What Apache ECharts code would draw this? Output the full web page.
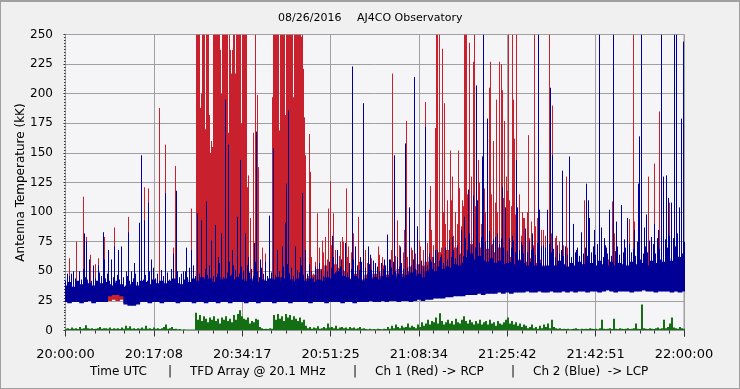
<!DOCTYPE html>
<html><head><meta charset="utf-8">
<script src="https://cdn.jsdelivr.net/npm/echarts@6/dist/echarts.min.js"></script>
<style>
html,body{margin:0;padding:0;background:#f0f0f0;}
#chart{position:absolute;left:0;top:0;width:740px;height:389px;}
#frame{position:absolute;left:0;top:0;width:740px;height:389px;box-sizing:border-box;border:1px solid #a0a0a0;border-top:2px solid #a0a0a0;pointer-events:none;}
</style></head><body>
<div id="chart"></div><div id="frame"></div>
<script>
// ---- data (time in minutes after 20:00:00 UTC, values in kK) ----
const xTickLabels = ['20:00:00','20:17:08','20:34:17','20:51:25','21:08:34','21:25:42','21:42:51','22:00:00'];

// solid core of each channel: 155 uniform bins over 20:00-22:00 (low, high)
const blueLow = [
24,23,24,24,23,24,25,23,24,24, 24,29,30,30,29,22,21,21,22,24, 24,23,24,24,23,24,24,24,23,24,
24,24,23,24,24,23,24,24,23,24, 24,23,24,24,24,23,24,24,23,24, 24,24,23,24,24,24,23,24,24,24,
24,23,24,24,24,23,24,24,24,23, 24,24,23,24,24,24,25,24,24,25, 24,25,25,24,25,25,24,25,26,25,
26,26,27,27,27,28,28,29,29,29, 30,30,30,31,30,31,31,31,32,31, 32,31,32,32,32,33,32,32,33,32,
32,33,32,32,33,32,33,32,33,33, 32,33,33,32,33,34,33,32,33,33, 33,32,33,33,34,33,33,32,33,33,
33,32,33,32,33];
const blueHigh = [
38,41,37,42,39,43,40,38,42,40, 41,39,38,42,39,37,39,41,38,42, 41,39,43,40,42,40,42,44,40,39,
43,41,44,42,45,43,44,41,45,43, 44,46,43,45,43,42,44,42,41,43, 42,44,43,45,42,44,43,42,44,42,
42,44,41,43,42,45,44,48,50,46, 45,43,46,44,42,44,43,45,43,46, 45,47,44,48,45,47,49,46,48,45,
50,52,50,54,52,54,53,56,55,57, 62,65,60,63,59,58,61,57,59,56, 57,58,56,59,57,55,58,55,57,54,
55,57,55,59,56,54,57,55,58,56, 55,57,55,59,56,55,58,55,57,56, 55,58,56,60,57,55,59,57,60,58,
61,59,63,62,65];
const redLow = [
25,24,25,25,24,25,26,24,25,25, 25,25,26,25,26,23,22,22,23,25, 25,24,25,25,24,25,25,25,24,25,
25,25,24,25,25,24,25,25,24,25, 25,24,25,25,25,24,25,25,24,25, 25,25,24,25,25,25,24,25,25,25,
25,24,25,25,25,24,25,25,25,24, 25,25,24,25,25,25,26,25,25,26, 25,26,26,25,26,26,25,26,27,26,
27,27,28,28,28,29,29,30,30,30, 31,31,31,32,31,32,32,32,33,32, 33,32,33,33,33,34,33,33,34,33,
33,34,33,33,34,33,34,33,34,34, 33,34,34,33,34,35,34,33,34,34, 34,33,34,34,35,34,34,33,34,34,
34,33,34,33,34];
const redHigh = [
36,38,36,40,38,41,39,36,41,38, 38,37,36,39,37,33,37,39,35,40, 38,36,40,37,39,37,39,41,37,36,
40,38,42,50,54,52,56,51,56,53, 55,52,57,51,54,46,43,41,40,42, 40,43,50,54,52,56,51,55,53,49,
44,46,47,52,50,55,52,56,53,50, 46,44,48,45,43,47,44,48,45,49, 47,50,46,52,48,50,54,51,56,55,
58,62,57,66,61,68,63,70,65,72, 76,73,78,70,74,69,73,66,70,64, 67,62,65,60,64,58,61,57,60,55,
54,53,50,52,49,48,51,48,52,49, 47,50,48,52,54,60,57,48,51,49, 48,52,49,54,50,48,52,51,54,52,
55,53,58,56,60];

// fine structure above the core: one sample every ~23 s (310 samples for the whole span)
const blueFuzz = [
42,38,46,40,50,44,39,48,43,52, 45,40,47,42,55,44,41,49,46,53, 44,48,42,50,45,40,47,43,49,45,
38,46,42,50,44,48,41,52,46,43, 47,42,50,45,53,44,48,42,51,46, 44,49,43,52,46,41,50,45,48,43,
50,45,53,47,55,46,51,48,56,44, 52,47,55,49,46,54,48,57,50,45, 53,49,58,47,55,51,60,48,54,50,
47,55,49,52,46,58,50,45,53,48, 51,46,55,49,53,47,57,50,45,54, 50,56,48,53,46,58,51,49,55,47,
52,48,56,50,45,54,49,57,51,46, 55,50,58,53,62,49,56,52,60,51, 54,49,57,52,60,48,55,51,58,50,
53,48,56,51,59,49,54,50,57,52, 55,51,60,53,58,50,62,54,57,52, 58,53,62,55,60,52,64,56,59,54,
60,55,65,58,62,56,68,59,64,57, 66,60,70,62,68,61,72,64,69,63, 78,68,82,72,76,70,85,74,79,71,
75,69,80,72,77,68,82,73,78,70, 74,67,78,70,76,66,72,68,75,65, 72,66,76,68,70,64,74,67,71,63,
70,64,73,66,69,62,72,65,68,63, 71,64,69,62,74,66,70,63,72,65, 70,63,75,66,71,64,73,65,69,62,
72,65,70,63,76,67,71,64,74,66, 70,64,73,66,69,63,75,67,72,65, 71,66,76,68,73,65,78,69,74,67,
77,70,80,72,78,71,82,74,79,75];
const greenFuzz = [
1.5,2,1.2,2.5,1.5,2,1.2,3,1.5,2, 4.5,2,1.5,2,1.2,1.5,2,3,1.5,2, 2,1.5,2.5,1.2,2,1.5,2,1.2,2.5,1.5,
4,2,3.5,1.5,2,1.2,2,1.5,2.5,1.5, 4,1.5,2,1.2,2.5,1.5,2,1.2,2,3, 5,1.5,2,3,1.2,1.5,1,1.2,0.8,1,
0.8,0.8,0.8,0.8,0.8,15,9,13,8,12, 10,7,11,9,12,8,10,6,11,9, 12,8,10,7,13,9,14,17,12,10,
9,11,6,8,7,10,9,3,2,1.2, 1.5,1.2,2,1.5,13,9,14,10,12,8, 14,11,13,9,12,10,8,11,7,9,
4,2,3,1.5,2.5,2,3.5,1.5,2,3, 2,6,2.5,3,2,4,1.5,2.5,3,2, 2.5,1.5,3,2,2.5,1.5,2,3,1.5,2,
1.2,1,1.5,1,1.2,1,1.5,1.2,1,1.5, 1.2,3,1.5,4,2,5,3,2,4,2.5, 3,6,2.5,4,3,2,5,3,7,4,
6,9,5,8,7,11,6,14.5,8,5, 7,9,6,8,5,10,7,6,9,12, 8,6,9,7,5,8,6,9,5,7,
8,5,9,6,7,4,8,6,5,7, 9,11,6,8,5,7,4,6,3,5, 4,2,3,5,2,3,1.5,4,2,5,
3,6,2,9,3,2,1.5,2,1.2,1.5, 1.2,1.5,1,1.2,1.5,2,1.2,1,1.5,1.2, 1.5,1.2,2,1.5,1.2,1.5,1,2,9,1.5,
1.2,1.5,2,1.2,10,1.5,1.2,2,1.5,1.2, 1.5,2,1.2,1.5,2,6,1.5,1.2,22,2, 1.5,1.2,2,1.5,1.2,2,2.5,1.5,2,9,
2,3,6,11,2.5,2,1.5,3,2,1.5];
// channel 1 fine structure from 20:47:20 to 21:36:40 (same ~23 s sampling)
const redFuzz = { start: 47.34, values: [
50,62,48,58,55,70,52,66,49,60, 58,72,54,68,50,63,56,75,52,62, 55,66,50,60,48,58,53,64,49,57,
52,61,48,56,50,64,47,55,51,60, 54,68,52,63,58,72,55,66,53,62, 57,70,55,65,60,76,58,68,62,74,
68,85,72,95,78,88,70,100,82,92, 85,110,80,98,90,120,88,105,95,115, 92,118,85,105,98,125,90,110,100,120,
95,115,88,108,100,122,92,112,96,118, 88,105,82,98,90,110,80,95,86,100, 78,92,72,88,75,95,70,85,74,90,
68,82,65,78,62,75,60,72,58,70]};

// isolated spikes [minute, peak]
const blueSpikes = [
[0.39,48],[1.16,48],[2.72,50],[3.59,82],[3.98,75],[4.75,60],[6.31,55],[7.28,83],[7.66,60],[8.25,68],
[9.02,60],[9.60,71],[10.19,68],[10.96,71],[11.93,50],[12.13,83],[13.48,57],[14.40,91],[14.78,148],[15.42,93],
[16.20,108],[16.59,60],[19.44,116],[21.05,65],[21.50,118],[22.80,50],[23.57,70],[24.35,68],[25.65,99],[26.48,93],
[27.40,109],[28.23,76],[29.06,89],[29.72,62],[30.36,82],[31.00,195],[31.59,157],[32.36,68],[33.41,96],[33.99,144],
[34.88,82],[35.54,62],[36.63,74],[37.10,168],[37.93,60],[38.76,58],[39.54,97],[40.32,154],[41.17,68],[42.14,71],
[42.78,91],[42.92,124],[43.36,186],[44.72,71],[45.69,62],[46.02,116],[46.66,68],[47.30,55],[48.80,52],[51.71,80],
[52.68,68],[53.45,54],[54.42,74],[55.64,223],[56.36,71],[57.14,62],[57.91,192],[58.88,71],[59.21,64],[60.18,57],
[61.80,60],[62.43,81],[63.15,60],[63.74,148],[64.32,62],[65.09,70],[66.06,158],[66.65,104],[67.67,214],[68.20,88],
[69.94,172],[70.72,60],[71.88,68],[72.66,62],[73.63,70],[74.41,76],[74.99,79],[75.96,66],[76.74,85],[77.51,96],
[78.23,119],[79.20,114],[79.65,207],[80.03,110],[80.81,147],[81.06,250],[81.84,179],[82.36,84],[83.39,79],[84.69,121],
[85.33,104],[86.63,80],[87.41,144],[87.79,104],[88.57,72],[89.21,86],[90.51,82],[91.73,250],[92.06,102],[92.78,72],
[93.42,102],[94.14,205],[94.53,148],[95.36,67],[96.39,135],[97.88,147],[98.52,90],[99.18,68],[100.15,83],[101.12,124],
[101.43,110],[101.74,95],[102.73,85],[103.61,250],[104.03,87],[104.48,78],[105.00,70],[105.64,102],[106.28,250],[107.00,92],
[107.91,106],[108.55,77],[109.13,95],[109.52,62],[110.30,85],[111.13,124],[111.46,164],[111.85,250],[112.24,87],[112.80,98],
[113.73,79],[114.36,90],[115.01,85],[115.73,250],[115.98,130],[116.64,131],[116.90,112],[117.61,108],[118.06,250],[118.45,250],
[119.03,104],[119.42,179],[119.87,244]];

const redSpikes = [
[0.78,61],[2.23,75],[3.49,113],[4.04,79],[4.81,64],[5.78,56],[6.31,61],[7.61,79],[9.55,87],[12.13,96],
[15.42,121],[16.20,120],[18.28,188],[19.44,157],[20.95,70],[21.30,139],[24.35,103],
[35.99,95],[36.44,167],[36.96,250],[37.21,199],[37.41,138],[38.13,70],[38.90,65],
[47.30,166],[47.57,134],[48.85,99],[49.77,76],[50.48,79],[51.12,103],[51.51,126],[52.09,99],[52.73,68],[53.39,75],
[53.70,79],[54.48,120],[55.00,71],[55.97,82],[56.94,96],[58.24,68],[60.82,71],[61.46,62],[63.09,57],[63.54,217],
[64.38,93],[65.03,71],[65.68,85],[66.16,177],[67.29,68],[68.92,71],[69.94,193],[70.53,102],[70.91,122],[71.75,171],
[71.98,250],[72.21,250],[72.47,250],[73.11,238],[73.44,192],[73.82,90],[74.21,110],[74.79,152],[75.18,130],[75.57,100],
[76.21,152],[76.54,120],[76.93,110],[77.41,250],[77.63,250],[77.84,250],[78.29,243],[78.68,130],[79.12,227],[79.45,250],
[80.09,144],[80.42,110],[81.39,120],[82.22,205],[82.50,227],[83.00,160],[83.66,195],[84.11,227],[84.50,225],[84.75,203],
[85.14,177],[85.47,130],[85.91,250],[86.24,110],[86.69,250],[86.88,195],[87.08,162],[87.41,250],[87.99,115],[88.57,100],
[89.15,95],[89.79,165],[90.32,90],[90.96,250],[91.48,95],[92.26,85],[93.04,80],[94.00,250],[94.53,190],[95.17,80],
[97.24,130],[100.79,110],[101.76,75],[106.09,109],[106.61,82],[109.52,94],[110.16,250],[110.49,92],[113.07,130],[114.24,141],
[115.34,185],[116.64,128],[117.15,108],[117.67,90]];

// saturated bursts of channel 1, one value per ~11.6 s sample
const burstStep = 0.19402;
const redBurstA = { start: 25.42, values: [
250,250,250,250,188,200,250,250,250,170, 250,250,250,182,150,160,155,250,250,250,
250,250,250,250,237,200,250,250,250,250, 250,250,167,250,237,217,237,250,250,217,
250,250,250,250,250,175,250,250,250,250, 250,121,131]};
const redBurstB = { start: 40.16, values: [
197,250,250,250,250,250,250,169,250,250, 250,250,250,182,250,250,250,250,250,250,
250,197,250,250,250,250,250,250,250,248, 250,221,180,148]};

// ---- chart ----
const T_MAX = 120;
const FUZZ_STEP = T_MAX / 309;
const FONT = '"DejaVu Sans", Verdana, sans-serif';
const RED = '#c8202c', BLUE = '#000096', GREEN = '#146e14';
const SPIKE_BASE = 34, GREEN_BASE = 0.3;

function bandSeries(low, high, color, z) {
  const n = high.length;
  const step = T_MAX / (n - 1);
  const data = high.map((h, j) => [j * step, low[j], h]);
  return {
    type: 'custom', z, silent: true, clip: true, data,
    encode: { x: 0, y: [1, 2] },
    renderItem: (params, api) => {
      const t = api.value(0);
      const a = api.coord([t - step / 2, api.value(1)]);
      const b = api.coord([t + step / 2, api.value(2)]);
      return { type: 'rect', shape: { x: a[0] - 0.3, y: b[1], width: b[0] - a[0] + 0.6, height: a[1] - b[1] },
               style: { fill: color } };
    }
  };
}
function spikeSeries(spikes, base, color, z, lw) {
  lw = lw || 1;
  return {
    type: 'custom', z, silent: true, clip: true, data: spikes,
    encode: { x: 0, y: 1 },
    renderItem: (params, api) => {
      const p = api.coord([api.value(0), api.value(1)]);
      const q = api.coord([api.value(0), base]);
      const x = lw % 2 ? Math.floor(p[0]) + 0.5 : Math.round(p[0]);
      return { type: 'line', shape: { x1: x, y1: q[1], x2: x, y2: p[1] }, style: { stroke: color, lineWidth: lw } };
    }
  };
}
const seq = (start, step, values) => values.map((v, i) => [start + i * step, v]);

const chart = echarts.init(document.getElementById('chart'), null, { renderer: 'canvas' });
const txt = (text, x, y, size) => ({ type: 'text', x, y, silent: true,
  style: { text, fill: '#000', font: size + 'px ' + FONT, align: 'left', verticalAlign: 'middle' } });

chart.setOption({
  animation: false,
  backgroundColor: '#f0f0f0',
  grid: { left: 65.5, top: 34.5, width: 618.5, height: 296, show: true,
          backgroundColor: '#f5f5f8', borderColor: '#a0a0a0', borderWidth: 1 },
  xAxis: {
    type: 'value', min: 0, max: T_MAX, interval: T_MAX / 7, offset: 4,
    axisLine: { show: false },
    axisTick: { show: true, length: 6, lineStyle: { color: '#333' } },
    minorTick: { show: true, splitNumber: 6, length: 3, lineStyle: { color: '#333' } },
    axisLabel: { margin: 14, fontFamily: FONT, fontSize: 13, color: '#000',
      showMinLabel: true, showMaxLabel: true,
      formatter: v => xTickLabels[Math.round(v / (T_MAX / 7))] },
    splitLine: { show: true, lineStyle: { color: '#a0a0a0' } }
  },
  yAxis: {
    type: 'value', min: 0, max: 250, interval: 25, offset: 5.5,
    axisLine: { show: false },
    axisTick: { show: true, length: 2, lineStyle: { color: '#333' } },
    minorTick: { show: true, splitNumber: 10, length: 1.5, lineStyle: { color: '#333' } },
    axisLabel: { margin: 7, fontFamily: FONT, fontSize: 12, color: '#000' },
    splitLine: { show: true, lineStyle: { color: '#a0a0a0' } },
    name: 'Antenna Temperature (kK)', nameLocation: 'middle', nameRotate: 90, nameGap: 33,
    nameMoveOverlap: false,
    nameTextStyle: { fontFamily: FONT, fontSize: 12, color: '#000' }
  },
  graphic: [
    txt('08/26/2016', 278, 18, 11),
    txt('AJ4CO Observatory', 357, 18, 11),
    txt('Time UTC', 90, 372, 12),
    txt('|', 168, 372, 12),
    txt('TFD Array @ 20.1 MHz', 190, 372, 12),
    txt('|', 353, 372, 12),
    txt('Ch 1 (Red) -> RCP', 375, 372, 12),
    txt('|', 511, 372, 12),
    txt('Ch 2 (Blue)  -> LCP', 533, 372, 12)
  ],
  series: [
    bandSeries(redLow, redHigh, RED, 2),
    spikeSeries(seq(redFuzz.start, FUZZ_STEP, redFuzz.values), SPIKE_BASE, RED, 3),
    spikeSeries(redSpikes.concat(seq(redBurstA.start, burstStep, redBurstA.values),
                                 seq(redBurstB.start, burstStep, redBurstB.values)), SPIKE_BASE, RED, 3),
    bandSeries(blueLow, blueHigh, BLUE, 4),
    spikeSeries(seq(0, FUZZ_STEP, blueFuzz), SPIKE_BASE, BLUE, 5),
    spikeSeries(blueSpikes, SPIKE_BASE, BLUE, 5),
    spikeSeries(seq(0, FUZZ_STEP, greenFuzz), GREEN_BASE, GREEN, 6, 2)
  ]
});
</script>
</body></html>
